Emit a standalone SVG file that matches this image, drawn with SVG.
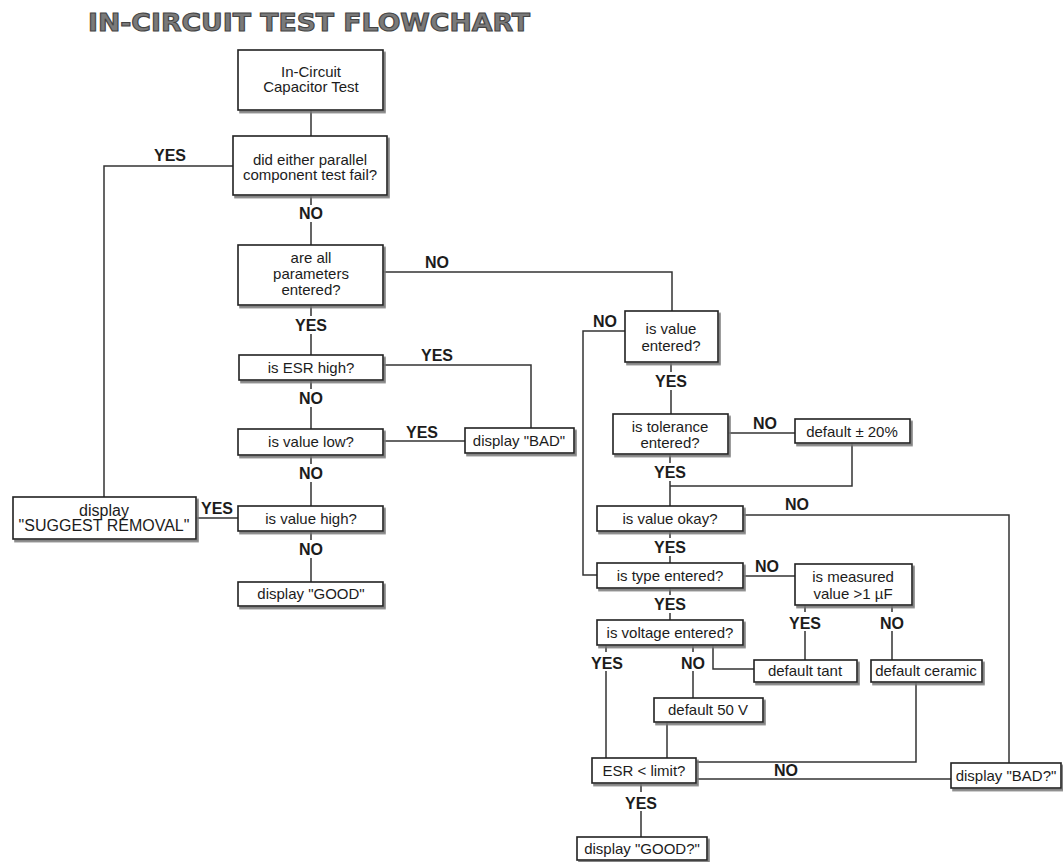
<svg xmlns="http://www.w3.org/2000/svg" width="1063" height="862" viewBox="0 0 1063 862">
<defs>
<filter id="sh" x="-10%" y="-20%" width="130%" height="160%">
<feDropShadow dx="2" dy="2.5" stdDeviation="0.7" flood-color="#777" flood-opacity="0.9"/>
</filter>
<style>
.box{fill:#fff;stroke:#222;stroke-width:1.6;filter:url(#sh)}
.t{font-family:"Liberation Sans",Arial,Helvetica,sans-serif;font-size:15px;fill:#1c1c1c;text-anchor:middle}
.lbl{font-family:"Liberation Sans",Arial,Helvetica,sans-serif;font-size:16px;font-weight:bold;fill:#1c1c1c;text-anchor:middle}
.c{fill:none;stroke:#333;stroke-width:1.5}
.title{font-family:"DejaVu Sans",Verdana,sans-serif;font-size:25px;font-weight:bold;fill:#7a7a7a;stroke:#444;stroke-width:1.1}
</style>
</defs>
<rect width="1063" height="862" fill="#fff"/>
<text class="title" x="88" y="31" textLength="442" lengthAdjust="spacingAndGlyphs">IN-CIRCUIT TEST FLOWCHART</text>

<g id="connectors">
<path class="c" d="M311 110V136"/>
<path class="c" d="M233 166H104V497"/>
<path class="c" d="M311 195V205M311 222V245"/>
<path class="c" d="M383 272H672V311"/>
<path class="c" d="M311 305V316M311 334V355"/>
<path class="c" d="M383 365H531V428"/>
<path class="c" d="M311 380V389M311 407V429"/>
<path class="c" d="M383 441H465"/>
<path class="c" d="M311 455V464M311 482V506"/>
<path class="c" d="M238 518H196"/>
<path class="c" d="M311 531V540M311 558V582"/>
<path class="c" d="M625 331H583V575H597"/>
<path class="c" d="M671 362V372M671 390V414"/>
<path class="c" d="M728 433H795"/>
<path class="c" d="M852 443V486H670"/>
<path class="c" d="M670 454V463M670 481V506"/>
<path class="c" d="M743 515H1009V763"/>
<path class="c" d="M670 531V538M670 556V563"/>
<path class="c" d="M743 576H795"/>
<path class="c" d="M670 588V595M670 613V620"/>
<path class="c" d="M805 605V612M805 631V660"/>
<path class="c" d="M892 605V612M892 631V660"/>
<path class="c" d="M754 669H713V645"/>
<path class="c" d="M606 645V652M606 671V758"/>
<path class="c" d="M693 645V652M693 671V698"/>
<path class="c" d="M667 722V758"/>
<path class="c" d="M916 682V762H696"/>
<path class="c" d="M696 779H951"/>
<path class="c" d="M641 783V792M641 811V837"/>
</g>

<g id="labels">
<text class="lbl" x="170" y="161">YES</text>
<text class="lbl" x="311" y="219">NO</text>
<text class="lbl" x="437" y="268">NO</text>
<text class="lbl" x="311" y="331">YES</text>
<text class="lbl" x="437" y="361">YES</text>
<text class="lbl" x="311" y="404">NO</text>
<text class="lbl" x="422" y="438">YES</text>
<text class="lbl" x="311" y="479">NO</text>
<text class="lbl" x="217" y="514">YES</text>
<text class="lbl" x="311" y="555">NO</text>
<text class="lbl" x="605" y="327">NO</text>
<text class="lbl" x="671" y="387">YES</text>
<text class="lbl" x="765" y="429">NO</text>
<text class="lbl" x="670" y="478">YES</text>
<text class="lbl" x="797" y="510">NO</text>
<text class="lbl" x="670" y="553">YES</text>
<text class="lbl" x="767" y="572">NO</text>
<text class="lbl" x="670" y="610">YES</text>
<text class="lbl" x="805" y="629">YES</text>
<text class="lbl" x="892" y="629">NO</text>
<text class="lbl" x="607" y="669">YES</text>
<text class="lbl" x="693" y="669">NO</text>
<text class="lbl" x="786" y="776">NO</text>
<text class="lbl" x="641" y="809">YES</text>
</g>

<g id="start"><rect class="box" x="238" y="50" width="145" height="60"/>
<text class="t" x="311" y="77">In-Circuit</text><text class="t" x="311" y="92">Capacitor Test</text></g>

<g id="q_parallel"><rect class="box" x="233" y="136" width="154" height="59"/>
<text class="t" x="310" y="165">did either parallel</text><text class="t" x="310" y="180">component test fail?</text></g>

<g id="q_params"><rect class="box" x="238" y="245" width="145" height="60"/>
<text class="t" x="311" y="263">are all</text><text class="t" x="311" y="279">parameters</text><text class="t" x="311" y="295">entered?</text></g>

<g id="q_esr_high"><rect class="box" x="239" y="355" width="144" height="25"/>
<text class="t" x="311" y="373">is ESR high?</text></g>

<g id="q_value_low"><rect class="box" x="238" y="429" width="145" height="26"/>
<text class="t" x="311" y="447">is value low?</text></g>

<g id="display_bad"><rect class="box" x="465" y="428" width="109" height="25"/>
<text class="t" x="519" y="446">display "BAD"</text></g>

<g id="q_value_high"><rect class="box" x="238" y="506" width="145" height="25"/>
<text class="t" x="311" y="524">is value high?</text></g>

<g id="display_good"><rect class="box" x="238" y="582" width="145" height="24"/>
<text class="t" x="311" y="599">display "GOOD"</text></g>

<g id="suggest_removal"><rect class="box" x="13" y="497" width="183" height="42"/>
<text class="t" x="104" y="516" style="font-size:16px">display</text><text class="t" x="104" y="531" style="font-size:16px">"SUGGEST REMOVAL"</text></g>

<g id="q_value_entered"><rect class="box" x="625" y="311" width="93" height="51"/>
<text class="t" x="671" y="334">is value</text><text class="t" x="671" y="351">entered?</text></g>

<g id="q_tolerance"><rect class="box" x="613" y="414" width="115" height="40"/>
<text class="t" x="670" y="432">is tolerance</text><text class="t" x="670" y="448">entered?</text></g>

<g id="default_20"><rect class="box" x="795" y="419" width="115" height="24"/>
<text class="t" x="852" y="437">default ± 20%</text></g>

<g id="q_value_okay"><rect class="box" x="597" y="506" width="146" height="25"/>
<text class="t" x="670" y="524">is value okay?</text></g>

<g id="q_type"><rect class="box" x="597" y="563" width="146" height="25"/>
<text class="t" x="670" y="581">is type entered?</text></g>

<g id="q_measured"><rect class="box" x="795" y="564" width="117" height="41"/>
<text class="t" x="853" y="582">is measured</text><text class="t" x="853" y="599">value &gt;1 µF</text></g>

<g id="q_voltage"><rect class="box" x="597" y="620" width="146" height="25"/>
<text class="t" x="670" y="638">is voltage entered?</text></g>

<g id="default_tant"><rect class="box" x="754" y="660" width="103" height="22"/>
<text class="t" x="805" y="676">default tant</text></g>

<g id="default_ceramic"><rect class="box" x="871" y="660" width="111" height="22"/>
<text class="t" x="926" y="676">default ceramic</text></g>

<g id="default_50v"><rect class="box" x="654" y="698" width="109" height="24"/>
<text class="t" x="708" y="715">default 50 V</text></g>

<g id="q_esr_limit"><rect class="box" x="592" y="758" width="104" height="25"/>
<text class="t" x="644" y="776">ESR &lt; limit?</text></g>

<g id="display_bad2"><rect class="box" x="951" y="763" width="110" height="25"/>
<text class="t" x="1006" y="781">display "BAD?"</text></g>

<g id="display_good2"><rect class="box" x="577" y="837" width="130" height="23"/>
<text class="t" x="642" y="854">display "GOOD?"</text></g>
</svg>
